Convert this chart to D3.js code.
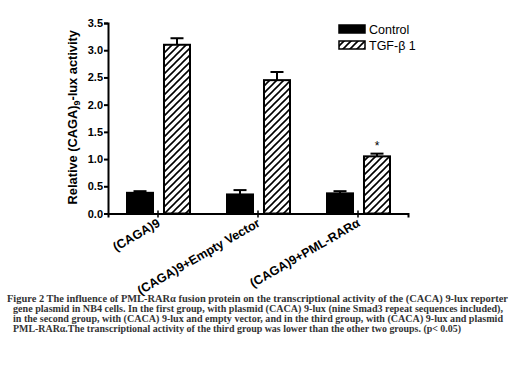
<!DOCTYPE html>
<html>
<head>
<meta charset="utf-8">
<script src="https://d3js.org/d3.v7.min.js"></script>
<style>
  body { margin: 0; background: #fff; }
</style>
</head>
<body>
<script>
// data
const categories = ["(CAGA)9", "(CAGA)9+Empty Vector", "(CAGA)9+PML-RARα"];
const series = ["Control", "TGF-β 1"];
const controlVals = [0.38, 0.35, 0.37];
const controlErr  = [0.03, 0.08, 0.04];
const tgfVals = [3.10, 2.45, 1.05];
const tgfErr  = [0.12, 0.15, 0.05];
const yTicks = [0, 0.5, 1.0, 1.5, 2.0, 2.5, 3.0, 3.5];
const caption = [
  "Figure 2  The influence of PML-RARα  fusion protein on the transcriptional activity of the (CACA) 9-lux reporter",
  "gene plasmid in NB4 cells. In the first group, with plasmid (CACA) 9-lux (nine Smad3 repeat sequences included),",
  "in the second group, with (CACA) 9-lux and empty vector, and in the third group, with (CACA) 9-lux and plasmid",
  "PML-RARα.The transcriptional activity of the third group was lower than the other two groups. (p< 0.05)"
];

const width = 520, height = 368;
const margin = { left: 108, top: 23, right: 112, bottom: 154 };
const font = "'Liberation Sans', Arial, sans-serif";

const svg = d3.select("body").append("svg")
  .attr("width", width).attr("height", height);

// hatch pattern
svg.append("defs").append("pattern")
  .attr("id", "hatch")
  .attr("patternUnits", "userSpaceOnUse")
  .attr("width", 7).attr("height", 7)
  .append("path")
  .attr("d", "M-1,1 l2,-2 M0,7 l7,-7 M6,8 l2,-2")
  .attr("stroke", "#000").attr("stroke-width", 1.6);

// scales
const x = d3.scaleBand().domain(categories)
  .range([margin.left, width - margin.right]);
const inner = d3.scaleBand().domain(series)
  .range([19, 82]).paddingInner(0.297);
const y = d3.scaleLinear().domain([0, 3.5])
  .range([height - margin.bottom - 0.5, margin.top]);

// rows for drawing
const rows = [];
categories.forEach((c, i) => {
  rows.push({ cat: c, s: series[0], v: controlVals[i], e: controlErr[i] });
  rows.push({ cat: c, s: series[1], v: tgfVals[i], e: tgfErr[i] });
});

// error bars (one sided, drawn behind bars)
const eb = svg.append("g").attr("stroke", "#000").attr("stroke-width", 2);
rows.forEach(d => {
  const cx = x(d.cat) + inner(d.s) + inner.bandwidth() / 2;
  eb.append("line").attr("x1", cx).attr("x2", cx)
    .attr("y1", y(d.v)).attr("y2", y(d.v + d.e));
  eb.append("line").attr("x1", cx - 6.5).attr("x2", cx + 6.5)
    .attr("y1", y(d.v + d.e)).attr("y2", y(d.v + d.e));
});

// bars
svg.append("g").selectAll("rect").data(rows).join("rect")
  .attr("x", d => x(d.cat) + inner(d.s))
  .attr("y", d => y(d.v))
  .attr("width", inner.bandwidth())
  .attr("height", d => y(0) - y(d.v))
  .attr("fill", d => d.s === series[0] ? "#000" : "url(#hatch)")
  .attr("stroke", "#000").attr("stroke-width", 2);

// significance star
svg.append("text")
  .attr("x", x(categories[2]) + inner(series[1]) + inner.bandwidth() / 2)
  .attr("y", y(tgfVals[2] + tgfErr[2]) - 4)
  .attr("text-anchor", "middle")
  .attr("font-family", font).attr("font-size", 12)
  .text("*");

// y axis
const yAxis = svg.append("g")
  .attr("transform", `translate(${margin.left},0)`)
  .call(d3.axisLeft(y).tickValues(yTicks).tickFormat(d3.format(".1f"))
    .tickSizeOuter(0).tickSize(4).tickPadding(1));
yAxis.select(".domain").attr("stroke-width", 2);
yAxis.selectAll(".tick line").attr("stroke-width", 2);
yAxis.selectAll("text").attr("font-family", font)
  .attr("font-size", 11).attr("font-weight", "bold").attr("fill", "#000");

// x axis
const xAxis = svg.append("g")
  .attr("transform", `translate(0,${y(0)})`)
  .call(d3.axisBottom(x).tickSizeOuter(0).tickSize(4));
xAxis.select(".domain").attr("stroke-width", 2);
xAxis.selectAll(".tick line").attr("y1", -3).attr("y2", 4).attr("stroke-width", 1.5);
xAxis.selectAll(".tick text")
  .attr("font-family", font).attr("font-size", 12.5).attr("font-weight", "bold")
  .attr("fill", "#000")
  .attr("text-anchor", "end")
  .attr("transform", "translate(3,12) rotate(-30)")
  .attr("dy", 0).attr("y", 0);

// y label
const yl = svg.append("text")
  .attr("transform", `translate(77,${(y(0) + y(3.5)) / 2 - 1}) rotate(-90)`)
  .attr("text-anchor", "middle")
  .attr("font-family", font).attr("font-size", 12.8).attr("font-weight", "bold");
yl.append("tspan").text("Relative (CAGA)");
yl.append("tspan").attr("font-size", 9).attr("dy", 3).text("9");
yl.append("tspan").attr("dy", -3).text("-lux activity");

// legend
const lg = svg.append("g").attr("transform", "translate(339,25)");
series.forEach((s, i) => {
  lg.append("rect").attr("x", 0).attr("y", i * 16)
    .attr("width", 26).attr("height", 8)
    .attr("fill", i === 0 ? "#000" : "url(#hatch)")
    .attr("stroke", "#000").attr("stroke-width", 1.5);
  lg.append("text").attr("x", 30).attr("y", i * 16 + 9)
    .attr("font-family", font).attr("font-size", 12.5)
    .text(s);
});

// caption
const capX = [7, 13, 13, 13];
const capW = [501, 490, 490, 448];
svg.append("g").selectAll("text").data(caption).join("text")
  .attr("x", (d, i) => capX[i])
  .attr("y", (d, i) => 302 + i * 10)
  .attr("textLength", (d, i) => capW[i])
  .attr("lengthAdjust", "spacingAndGlyphs")
  .attr("font-family", "'Liberation Serif', serif")
  .attr("font-size", 9.5).attr("font-weight", "bold")
  .attr("fill", "#333")
  .text(d => d);
</script>
</body>
</html>
